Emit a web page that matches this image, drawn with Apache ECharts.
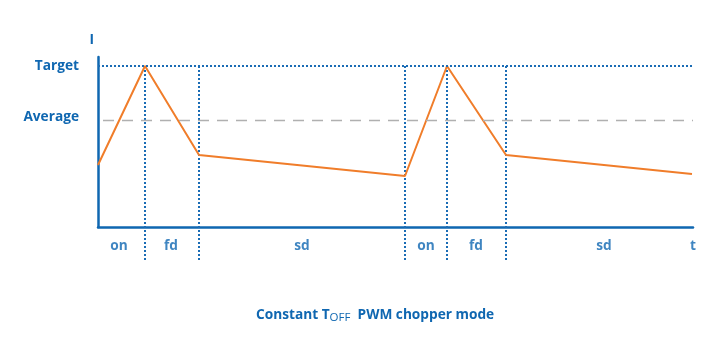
<!DOCTYPE html>
<html><head><meta charset="utf-8">
<script src="https://cdn.jsdelivr.net/npm/echarts@6/dist/echarts.min.js"></script>
<style>html,body{margin:0;padding:0;background:#fff}#c{width:720px;height:360px}</style>
</head><body><div id="c"></div>
<script>
const xTimes = [0, 47, 101, 307, 349, 408, 594];
const current = [62, 161, 72, 51, 161, 72, 53];
const dividers = [47, 101, 307, 349, 408];
const phaseLabels = ['on', 'fd', 'sd', 'on', 'fd', 'sd', 't'];
const phasePos = [21, 73, 204, 328, 378, 506, 595];
const levelNames = ['Average', 'Target'];
const levelValues = [107, 161];
const labelLevel = -19;
const dividerBottom = -33;

const blue = '#0f67b1';
const font = '"Open Sans", "Noto Sans", sans-serif';
const chart = echarts.init(document.getElementById('c'));
chart.setOption({
  animation: false,
  title: {
    text: '{a|Constant T}{s|OFF}{a|  PWM chopper mode}',
    left: 251, top: 302,
    textStyle: {
      rich: {
        a: {fontFamily: font, fontWeight: 'bold', fontSize: 13.7, color: blue},
        s: {fontFamily: font, fontWeight: 'normal', fontSize: 11.5, color: blue, padding: [5, 0, 0, 0]}
      }
    }
  },
  grid: {left: 98, right: 27, top: 57, bottom: 133},
  xAxis: {
    type: 'value', min: 0, max: 595,
    axisLine: {lineStyle: {color: blue, width: 2.5}},
    axisTick: {show: false}, axisLabel: {show: false}, splitLine: {show: false}
  },
  yAxis: {
    type: 'value', min: 0, max: 170,
    name: 'I', nameLocation: 'end', nameGap: 10,
    nameTextStyle: {color: blue, fontFamily: font, fontWeight: 'bold', fontSize: 13.7, align: 'right', padding: [0, 4, 0, 0]},
    axisLine: {show: true, lineStyle: {color: blue, width: 2.5}},
    axisTick: {show: false},
    axisLabel: {
      customValues: levelValues,
      formatter: v => v === levelValues[0] ? '{avg|' + levelNames[0] + '}' : '{tgt|' + levelNames[1] + '}',
      rich: {
        avg: {color: blue, fontFamily: font, fontWeight: 'bold', fontSize: 13.7, padding: [0, 0, 6, 0]},
        tgt: {color: blue, fontFamily: font, fontWeight: 'bold', fontSize: 13.7}
      },
      margin: 19
    },
    splitLine: {show: false}
  },
  series: [
    {
      type: 'line', data: xTimes.map((x, i) => [x, current[i]]),
      symbol: 'none', lineStyle: {color: '#f07d2a', width: 2},
      markLine: {
        symbol: 'none', silent: true, label: {show: false},
        data: [
          {yAxis: levelValues[1], lineStyle: {color: '#1a6cb5', type: [2, 2], width: 2}},
          [
            {coord: [5, levelValues[0]], lineStyle: {color: '#b0b0b0', type: [11, 8], width: 1.3}},
            {coord: [595, levelValues[0]]}
          ]
        ]
      },
      z: 3
    },
    {
      type: 'custom', clip: false, silent: true,
      data: dividers.map(x => [x]),
      renderItem: (params, api) => {
        const x = api.value(0);
        const p1 = api.coord([x, levelValues[1]]);
        const p2 = api.coord([x, dividerBottom]);
        return {type: 'line', shape: {x1: p1[0], y1: p1[1], x2: p2[0], y2: p2[1]},
          style: {stroke: '#1a6cb5', lineWidth: 2, lineDash: [2, 2]}};
      },
      z: 2
    },
    {
      type: 'scatter', clip: false, silent: true, symbolSize: 0,
      data: phasePos.map((x, i) => ({value: [x, labelLevel], name: phaseLabels[i]})),
      label: {show: true, position: 'inside', formatter: p => p.name,
        color: blue, fontFamily: font, fontWeight: 'bold', fontSize: 13.7}
    }
  ]
});
</script></body></html>
